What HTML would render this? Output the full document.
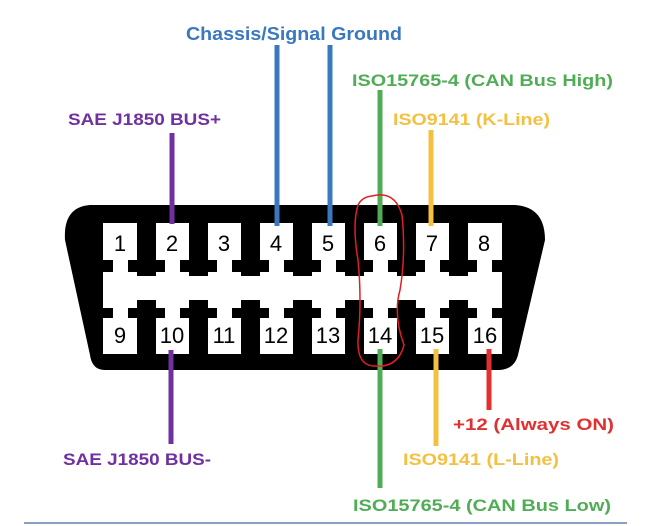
<!DOCTYPE html>
<html><head><meta charset="utf-8"><style>
html,body{margin:0;padding:0;background:#fff;}
svg{display:block;}
text{font-family:"Liberation Sans",sans-serif;font-weight:bold;}
.n{font-family:"Liberation Sans",sans-serif;font-weight:normal;font-size:22px;fill:#000;text-anchor:middle;}
</style></head><body>
<svg width="649" height="526" viewBox="0 0 649 526" xmlns="http://www.w3.org/2000/svg">
<path d="M90,205 L515,205 Q545,207 545,240 L518,355 Q514,370 498,370 L105,370 Q92,370 90,355 L65,240 Q63,207 90,205 Z" fill="#000"/>
<rect x="103" y="223" width="399" height="131" fill="#fff"/>
<g fill="#000">
<g id="tp">
<rect x="137" y="223" width="19" height="53"/>
<rect x="128" y="260" width="37" height="12"/>
</g>
<use href="#tp" x="52"/><use href="#tp" x="104"/><use href="#tp" x="156"/><use href="#tp" x="208"/><use href="#tp" x="260"/><use href="#tp" x="312"/>
<rect x="103" y="260" width="10" height="12"/>
<rect x="492" y="260" width="10" height="12"/>
<g id="bp">
<rect x="137" y="300" width="19" height="54"/>
<rect x="128" y="308" width="37" height="10"/>
</g>
<use href="#bp" x="52"/><use href="#bp" x="104"/><use href="#bp" x="156"/><use href="#bp" x="208"/><use href="#bp" x="260"/><use href="#bp" x="312"/>
<rect x="103" y="308" width="10" height="10"/>
<rect x="492" y="308" width="10" height="10"/>
</g>
<g>
<text class="n" x="120" y="251">1</text><text class="n" x="172" y="251">2</text><text class="n" x="224" y="251">3</text><text class="n" x="276" y="251">4</text>
<text class="n" x="328" y="251">5</text><text class="n" x="380" y="251">6</text><text class="n" x="432" y="251">7</text><text class="n" x="484" y="251">8</text>
<text class="n" x="120" y="343">9</text><text class="n" x="172" y="343">10</text><text class="n" x="224" y="343">11</text><text class="n" x="276" y="343">12</text>
<text class="n" x="328" y="343">13</text><text class="n" x="380" y="343">14</text><text class="n" x="432" y="343">15</text><text class="n" x="485" y="343">16</text>
</g>
<g stroke-width="5">
<line x1="172" y1="133" x2="172" y2="224" stroke="#7030a0"/>
<line x1="277" y1="45" x2="277" y2="226" stroke="#3a78c0"/>
<line x1="330" y1="45" x2="330" y2="226" stroke="#3a78c0"/>
<line x1="380" y1="90" x2="380" y2="226" stroke="#50ad55"/>
<line x1="431" y1="130" x2="431" y2="226" stroke="#f4c040"/>
<line x1="171" y1="350" x2="171" y2="444" stroke="#7030a0"/>
<line x1="380" y1="349" x2="380" y2="488" stroke="#50ad55"/>
<line x1="436" y1="349" x2="436" y2="446" stroke="#f4c040"/>
<line x1="489" y1="349" x2="489" y2="410" stroke="#e03030"/>
</g>
<path d="M372,196 Q395,190 402,215 Q406,255 400,290 Q393,315 404,345 Q398,368 375,366 Q357,366 358,340 Q362,300 358,260 Q352,225 358,205 Q362,197 372,196 Z" fill="none" stroke="#e02020" stroke-width="1.5"/>
<text x="186" y="40" font-size="18" fill="#3a78c0" textLength="216" lengthAdjust="spacingAndGlyphs">Chassis/Signal Ground</text>
<text x="352" y="86" font-size="17" fill="#50ad55" textLength="261" lengthAdjust="spacingAndGlyphs">ISO15765-4 (CAN Bus High)</text>
<text x="393" y="125" font-size="17" fill="#f4c040" textLength="157" lengthAdjust="spacingAndGlyphs">ISO9141 (K-Line)</text>
<text x="68" y="125" font-size="17" fill="#7030a0" textLength="153" lengthAdjust="spacingAndGlyphs">SAE J1850 BUS+</text>
<text x="453" y="430" font-size="17" fill="#e03030" textLength="161" lengthAdjust="spacingAndGlyphs">+12 (Always ON)</text>
<text x="403" y="465" font-size="17" fill="#f4c040" textLength="156" lengthAdjust="spacingAndGlyphs">ISO9141 (L-Line)</text>
<text x="63" y="465" font-size="17" fill="#7030a0" textLength="148" lengthAdjust="spacingAndGlyphs">SAE J1850 BUS-</text>
<text x="353" y="511" font-size="17" fill="#50ad55" textLength="258" lengthAdjust="spacingAndGlyphs">ISO15765-4 (CAN Bus Low)</text>
<line x1="24" y1="523" x2="627" y2="523" stroke="#6080b0" stroke-width="1.5"/>
</svg>
</body></html>
